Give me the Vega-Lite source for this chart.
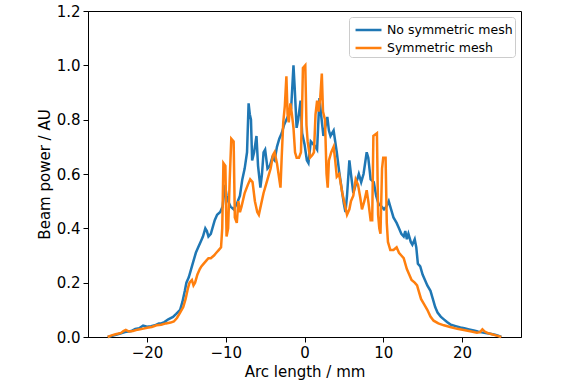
{
  "$schema": "https://vega.github.io/schema/vega-lite/v6.json",
  "autosize": "none",
  "width": 433,
  "height": 326,
  "padding": {"left": 88, "top": 11, "right": 43, "bottom": 51},
  "background": "white",
  "datasets": {
    "blue": [
      {"x": -25.0, "y": 0.0}, {"x": -24.3, "y": 0.005}, {"x": -23.5, "y": 0.012}, {"x": -22.8, "y": 0.018},
      {"x": -22.0, "y": 0.022}, {"x": -21.5, "y": 0.03}, {"x": -21.0, "y": 0.032}, {"x": -20.5, "y": 0.042},
      {"x": -20.0, "y": 0.038}, {"x": -19.5, "y": 0.04}, {"x": -19.0, "y": 0.043}, {"x": -18.5, "y": 0.05},
      {"x": -18.2, "y": 0.05}, {"x": -17.8, "y": 0.055}, {"x": -17.3, "y": 0.065}, {"x": -16.7, "y": 0.074},
      {"x": -16.3, "y": 0.085}, {"x": -15.8, "y": 0.1}, {"x": -15.5, "y": 0.13}, {"x": -15.2, "y": 0.17},
      {"x": -15.0, "y": 0.2}, {"x": -14.7, "y": 0.22}, {"x": -14.4, "y": 0.25}, {"x": -14.1, "y": 0.28},
      {"x": -13.8, "y": 0.31}, {"x": -13.5, "y": 0.33}, {"x": -13.2, "y": 0.35}, {"x": -12.9, "y": 0.37},
      {"x": -12.6, "y": 0.4}, {"x": -12.4, "y": 0.39}, {"x": -12.2, "y": 0.37}, {"x": -11.9, "y": 0.38},
      {"x": -11.6, "y": 0.41}, {"x": -11.4, "y": 0.43}, {"x": -11.1, "y": 0.45}, {"x": -10.7, "y": 0.46},
      {"x": -10.4, "y": 0.48}, {"x": -10.1, "y": 0.56}, {"x": -9.9, "y": 0.52}, {"x": -9.7, "y": 0.5},
      {"x": -9.4, "y": 0.48}, {"x": -9.0, "y": 0.47}, {"x": -8.6, "y": 0.49}, {"x": -8.2, "y": 0.52},
      {"x": -7.9, "y": 0.58}, {"x": -7.6, "y": 0.62}, {"x": -7.3, "y": 0.68}, {"x": -7.1, "y": 0.86},
      {"x": -6.95, "y": 0.82}, {"x": -6.8, "y": 0.8}, {"x": -6.65, "y": 0.65}, {"x": -6.4, "y": 0.68},
      {"x": -6.1, "y": 0.74}, {"x": -5.9, "y": 0.63}, {"x": -5.6, "y": 0.55}, {"x": -5.4, "y": 0.6},
      {"x": -5.2, "y": 0.68}, {"x": -5.0, "y": 0.69}, {"x": -4.7, "y": 0.62}, {"x": -4.4, "y": 0.63},
      {"x": -4.1, "y": 0.66}, {"x": -3.8, "y": 0.65}, {"x": -3.5, "y": 0.7}, {"x": -3.2, "y": 0.73},
      {"x": -2.9, "y": 0.75}, {"x": -2.6, "y": 0.78}, {"x": -2.3, "y": 0.8}, {"x": -2.0, "y": 0.82},
      {"x": -1.7, "y": 0.84}, {"x": -1.4, "y": 1.0}, {"x": -1.25, "y": 0.92}, {"x": -1.0, "y": 0.77},
      {"x": -0.8, "y": 0.8}, {"x": -0.5, "y": 0.87}, {"x": -0.3, "y": 0.75}, {"x": 0.0, "y": 0.71},
      {"x": 0.3, "y": 0.65}, {"x": 0.5, "y": 0.64}, {"x": 0.8, "y": 0.72}, {"x": 1.1, "y": 0.71},
      {"x": 1.4, "y": 0.7}, {"x": 1.6, "y": 0.69}, {"x": 1.9, "y": 0.88}, {"x": 2.1, "y": 0.82},
      {"x": 2.4, "y": 0.74}, {"x": 2.7, "y": 0.78}, {"x": 2.9, "y": 0.81}, {"x": 3.1, "y": 0.76},
      {"x": 3.3, "y": 0.74}, {"x": 3.7, "y": 0.76}, {"x": 4.1, "y": 0.68}, {"x": 4.4, "y": 0.61},
      {"x": 4.7, "y": 0.55}, {"x": 5.0, "y": 0.49}, {"x": 5.2, "y": 0.46}, {"x": 5.4, "y": 0.52},
      {"x": 5.7, "y": 0.65}, {"x": 5.9, "y": 0.6}, {"x": 6.2, "y": 0.53}, {"x": 6.5, "y": 0.56},
      {"x": 6.9, "y": 0.6}, {"x": 7.2, "y": 0.57}, {"x": 7.5, "y": 0.6}, {"x": 7.9, "y": 0.68},
      {"x": 8.1, "y": 0.66}, {"x": 8.4, "y": 0.58}, {"x": 8.8, "y": 0.57}, {"x": 9.1, "y": 0.52},
      {"x": 9.4, "y": 0.49}, {"x": 9.8, "y": 0.48}, {"x": 10.1, "y": 0.47}, {"x": 10.4, "y": 0.48},
      {"x": 10.7, "y": 0.5}, {"x": 11.0, "y": 0.47}, {"x": 11.3, "y": 0.44}, {"x": 11.7, "y": 0.42},
      {"x": 12.0, "y": 0.4}, {"x": 12.3, "y": 0.38}, {"x": 12.6, "y": 0.37}, {"x": 12.8, "y": 0.39},
      {"x": 13.0, "y": 0.36}, {"x": 13.2, "y": 0.38}, {"x": 13.5, "y": 0.35}, {"x": 13.7, "y": 0.34},
      {"x": 14.0, "y": 0.36}, {"x": 14.2, "y": 0.33}, {"x": 14.4, "y": 0.27}, {"x": 14.7, "y": 0.26},
      {"x": 15.0, "y": 0.23}, {"x": 15.3, "y": 0.21}, {"x": 15.6, "y": 0.19}, {"x": 16.0, "y": 0.17},
      {"x": 16.3, "y": 0.14}, {"x": 16.6, "y": 0.11}, {"x": 16.9, "y": 0.09}, {"x": 17.3, "y": 0.075},
      {"x": 17.7, "y": 0.065}, {"x": 18.1, "y": 0.055}, {"x": 18.6, "y": 0.045}, {"x": 19.2, "y": 0.04},
      {"x": 19.8, "y": 0.035}, {"x": 20.3, "y": 0.032}, {"x": 20.9, "y": 0.028}, {"x": 21.5, "y": 0.024},
      {"x": 22.0, "y": 0.02}, {"x": 22.5, "y": 0.017}, {"x": 23.0, "y": 0.015}, {"x": 23.6, "y": 0.012},
      {"x": 24.2, "y": 0.008}, {"x": 24.6, "y": 0.005}, {"x": 25.0, "y": 0.0}
    ],
    "orange": [
      {"x": -25.0, "y": 0.0}, {"x": -24.5, "y": 0.006}, {"x": -24.0, "y": 0.01}, {"x": -23.3, "y": 0.015},
      {"x": -23.0, "y": 0.022}, {"x": -22.7, "y": 0.026}, {"x": -22.3, "y": 0.02}, {"x": -21.8, "y": 0.022},
      {"x": -21.2, "y": 0.027}, {"x": -20.6, "y": 0.03}, {"x": -20.0, "y": 0.034}, {"x": -19.4, "y": 0.037},
      {"x": -18.8, "y": 0.043}, {"x": -18.2, "y": 0.045}, {"x": -17.6, "y": 0.05}, {"x": -17.0, "y": 0.053},
      {"x": -16.6, "y": 0.057}, {"x": -16.2, "y": 0.07}, {"x": -15.8, "y": 0.09}, {"x": -15.4, "y": 0.11},
      {"x": -15.1, "y": 0.14}, {"x": -14.8, "y": 0.18}, {"x": -14.6, "y": 0.2}, {"x": -14.3, "y": 0.21},
      {"x": -14.1, "y": 0.19}, {"x": -13.9, "y": 0.2}, {"x": -13.6, "y": 0.23}, {"x": -13.3, "y": 0.25},
      {"x": -13.1, "y": 0.26}, {"x": -12.8, "y": 0.27}, {"x": -12.5, "y": 0.28}, {"x": -12.2, "y": 0.29},
      {"x": -11.9, "y": 0.29}, {"x": -11.5, "y": 0.3}, {"x": -11.2, "y": 0.31}, {"x": -10.9, "y": 0.32},
      {"x": -10.6, "y": 0.33}, {"x": -10.45, "y": 0.4}, {"x": -10.3, "y": 0.64}, {"x": -10.05, "y": 0.63},
      {"x": -9.9, "y": 0.37}, {"x": -9.7, "y": 0.4}, {"x": -9.5, "y": 0.58}, {"x": -9.3, "y": 0.73},
      {"x": -9.0, "y": 0.72}, {"x": -8.85, "y": 0.44}, {"x": -8.6, "y": 0.42}, {"x": -8.4, "y": 0.5},
      {"x": -8.2, "y": 0.46}, {"x": -8.0, "y": 0.48}, {"x": -7.6, "y": 0.53}, {"x": -7.2, "y": 0.56},
      {"x": -6.9, "y": 0.58}, {"x": -6.6, "y": 0.57}, {"x": -6.3, "y": 0.5}, {"x": -6.0, "y": 0.46},
      {"x": -5.8, "y": 0.45}, {"x": -5.5, "y": 0.49}, {"x": -5.2, "y": 0.53}, {"x": -4.9, "y": 0.56},
      {"x": -4.6, "y": 0.59}, {"x": -4.3, "y": 0.62}, {"x": -4.0, "y": 0.67}, {"x": -3.8, "y": 0.68},
      {"x": -3.5, "y": 0.64}, {"x": -3.2, "y": 0.58}, {"x": -3.05, "y": 0.55}, {"x": -2.9, "y": 0.66},
      {"x": -2.7, "y": 0.79}, {"x": -2.5, "y": 0.85}, {"x": -2.3, "y": 0.96}, {"x": -2.15, "y": 0.82},
      {"x": -2.0, "y": 0.79}, {"x": -1.8, "y": 0.86}, {"x": -1.6, "y": 0.82}, {"x": -1.4, "y": 0.77},
      {"x": -1.2, "y": 0.68}, {"x": -1.0, "y": 0.66}, {"x": -0.7, "y": 0.66}, {"x": -0.45, "y": 0.68},
      {"x": -0.3, "y": 0.85}, {"x": -0.2, "y": 0.99}, {"x": 0.1, "y": 1.0}, {"x": 0.25, "y": 0.78},
      {"x": 0.4, "y": 0.72}, {"x": 0.7, "y": 0.66}, {"x": 1.0, "y": 0.67}, {"x": 1.2, "y": 0.68},
      {"x": 1.4, "y": 0.82}, {"x": 1.6, "y": 0.87}, {"x": 1.8, "y": 0.83}, {"x": 2.0, "y": 0.88},
      {"x": 2.2, "y": 0.97}, {"x": 2.35, "y": 0.83}, {"x": 2.6, "y": 0.8}, {"x": 2.8, "y": 0.6},
      {"x": 2.95, "y": 0.55}, {"x": 3.1, "y": 0.65}, {"x": 3.4, "y": 0.68}, {"x": 3.7, "y": 0.7},
      {"x": 3.9, "y": 0.65}, {"x": 4.1, "y": 0.59}, {"x": 4.4, "y": 0.6}, {"x": 4.8, "y": 0.53},
      {"x": 5.1, "y": 0.49}, {"x": 5.4, "y": 0.45}, {"x": 5.7, "y": 0.47}, {"x": 5.9, "y": 0.5},
      {"x": 6.2, "y": 0.52}, {"x": 6.5, "y": 0.58}, {"x": 6.8, "y": 0.56}, {"x": 7.1, "y": 0.51},
      {"x": 7.3, "y": 0.47}, {"x": 7.6, "y": 0.5}, {"x": 7.9, "y": 0.54}, {"x": 8.1, "y": 0.5},
      {"x": 8.4, "y": 0.43}, {"x": 8.6, "y": 0.43}, {"x": 8.75, "y": 0.74}, {"x": 9.2, "y": 0.75},
      {"x": 9.35, "y": 0.45}, {"x": 9.5, "y": 0.4}, {"x": 9.65, "y": 0.38}, {"x": 9.85, "y": 0.62},
      {"x": 10.0, "y": 0.66}, {"x": 10.3, "y": 0.66}, {"x": 10.45, "y": 0.42}, {"x": 10.6, "y": 0.35},
      {"x": 10.9, "y": 0.32}, {"x": 11.3, "y": 0.32}, {"x": 11.7, "y": 0.33}, {"x": 12.0, "y": 0.31},
      {"x": 12.3, "y": 0.3}, {"x": 12.6, "y": 0.29}, {"x": 12.8, "y": 0.27}, {"x": 13.0, "y": 0.25},
      {"x": 13.3, "y": 0.23}, {"x": 13.6, "y": 0.21}, {"x": 14.0, "y": 0.2}, {"x": 14.3, "y": 0.19},
      {"x": 14.5, "y": 0.17}, {"x": 14.8, "y": 0.14}, {"x": 15.2, "y": 0.12}, {"x": 15.6, "y": 0.1},
      {"x": 16.0, "y": 0.075}, {"x": 16.4, "y": 0.06}, {"x": 17.0, "y": 0.05}, {"x": 17.7, "y": 0.043},
      {"x": 18.5, "y": 0.037}, {"x": 19.4, "y": 0.03}, {"x": 20.4, "y": 0.025}, {"x": 21.2, "y": 0.02},
      {"x": 21.9, "y": 0.016}, {"x": 22.3, "y": 0.018}, {"x": 22.6, "y": 0.028}, {"x": 22.9, "y": 0.02},
      {"x": 23.3, "y": 0.014}, {"x": 23.8, "y": 0.01}, {"x": 24.4, "y": 0.005}, {"x": 25.0, "y": 0.0}
    ]
  },
  "layer": [
    {
      "data": {"name": "blue"},
      "transform": [{"calculate": "'No symmetric mesh'", "as": "series"}],
      "mark": {"type": "line", "strokeWidth": 2.5, "interpolate": "linear"},
      "encoding": {
        "x": {"field": "x", "type": "quantitative", "scale": {"domain": [-27.5, 27.5], "nice": false, "zero": false},
              "axis": {"values": [-20, -10, 0, 10, 20], "title": "Arc length / mm"}},
        "y": {"field": "y", "type": "quantitative", "scale": {"domain": [0, 1.2], "nice": false},
              "axis": {"values": [0, 0.2, 0.4, 0.6, 0.8, 1.0, 1.2], "format": ".1f", "title": "Beam power / AU"}},
        "color": {"field": "series", "type": "nominal",
                  "scale": {"domain": ["No symmetric mesh", "Symmetric mesh"], "range": ["#1f77b4", "#ff7f0e"]},
                  "legend": {"title": null, "orient": "top-right", "offset": 6}}
      }
    },
    {
      "data": {"name": "orange"},
      "transform": [{"calculate": "'Symmetric mesh'", "as": "series"}],
      "mark": {"type": "line", "strokeWidth": 2.5, "interpolate": "linear"},
      "encoding": {
        "x": {"field": "x", "type": "quantitative"},
        "y": {"field": "y", "type": "quantitative"},
        "color": {"field": "series", "type": "nominal"}
      }
    }
  ],
  "config": {
    "font": "DejaVu Sans",
    "view": {"stroke": "#000000", "strokeWidth": 1},
    "axis": {
      "grid": false,
      "domainColor": "#000000",
      "tickColor": "#000000",
      "tickSize": 5,
      "labelColor": "#000000",
      "titleColor": "#000000",
      "labelFont": "DejaVu Sans",
      "titleFont": "DejaVu Sans",
      "labelFontSize": 15,
      "titleFontSize": 15,
      "titleFontWeight": "normal",
      "labelPadding": 3,
      "titlePadding": 4
    },
    "legend": {
      "labelFont": "DejaVu Sans",
      "labelFontSize": 12.5,
      "labelColor": "#000000",
      "symbolType": "M-0.68,0H2.05",
      "symbolSize": 361,
      "symbolStrokeWidth": 2.5,
      "strokeColor": "#cccccc",
      "fillColor": "rgba(255,255,255,0.85)",
      "cornerRadius": 3,
      "padding": 2,
      "rowPadding": 0,
      "labelOffset": 14
    }
  }
}
